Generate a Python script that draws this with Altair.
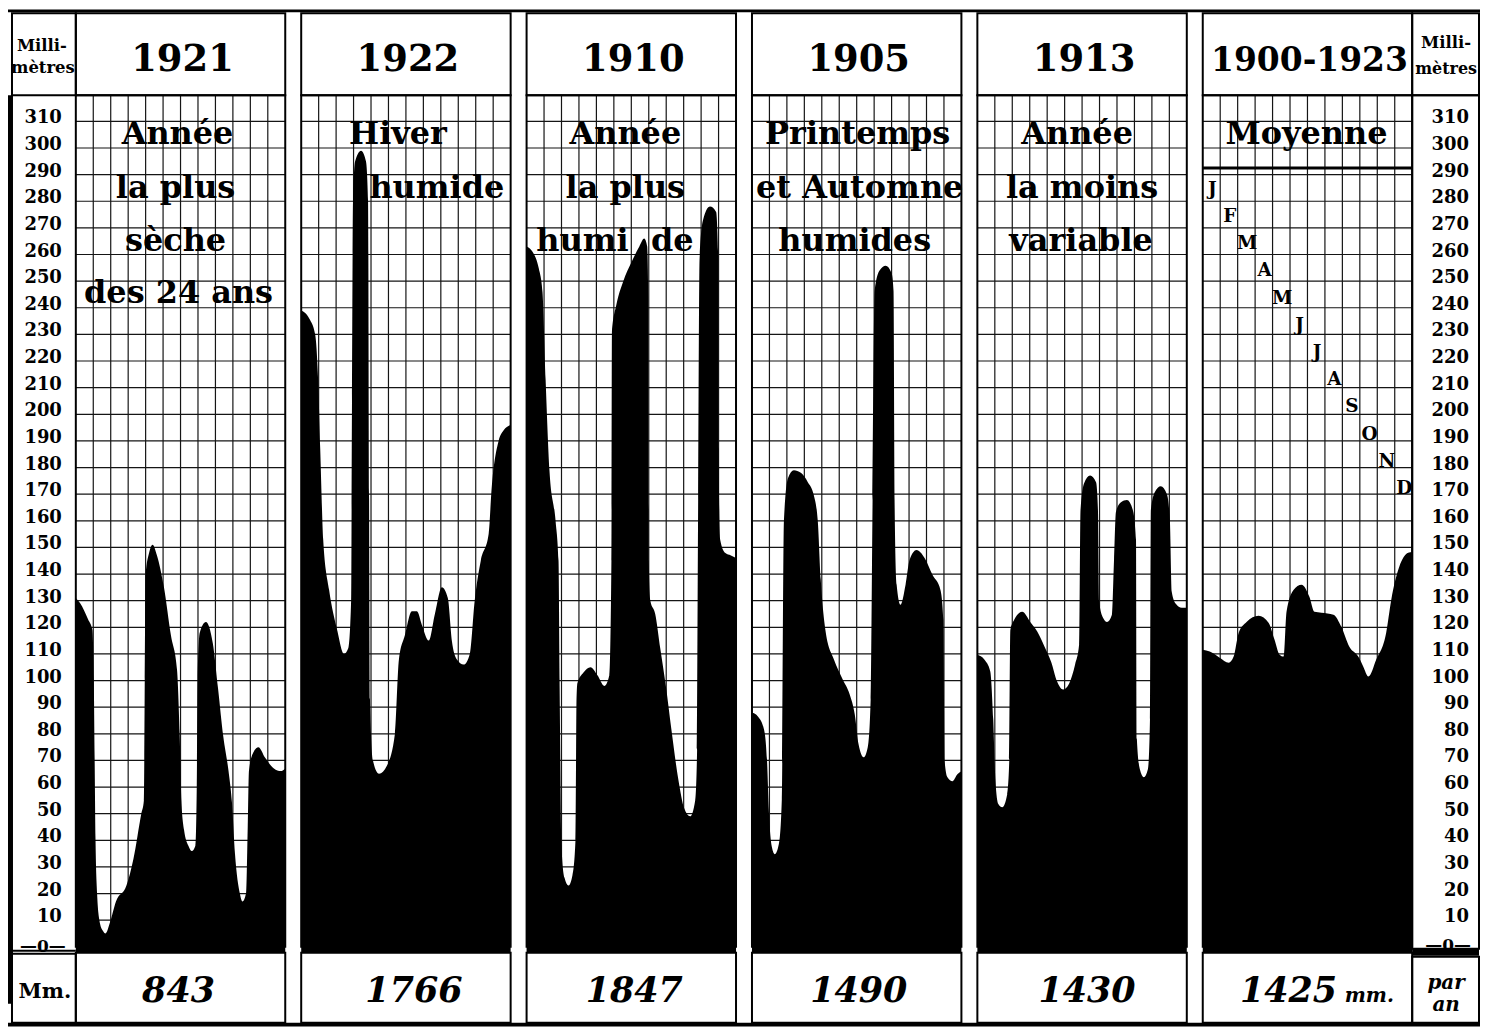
import altair as alt
import pandas as pd

# ---------------- data ----------------
years = ["1921", "1922", "1910", "1905", "1913", "1900-1923"]
totals = ["843", "1766", "1847", "1490", "1430", "1425"]
month_letters = ["J", "F", "M", "A", "M", "J", "J", "A", "S", "O", "N", "D"]
y_ticks = list(range(10, 320, 10))

notes_1921 = ["Année", "la plus", "sèche", "des 24 ans"]
notes_1922 = ["Hiver", "humide"]
notes_1910 = ["Année", "la plus", "humi", "de"]
notes_1905 = ["Printemps", "et Automne", "humides"]
notes_1913 = ["Année", "la moins", "variable"]
notes_moy = ["Moyenne"]

# month position (0 = start of January, 12 = end of December) and rainfall in mm
pos_1921 = [0.00, 0.25, 0.70, 0.95, 1.03, 1.08, 1.13, 1.22, 1.35, 1.55, 1.70, 1.95, 2.30, 2.90, 3.30, 3.75, 3.90,
            3.95, 4.00, 4.20, 4.40, 4.65, 5.05, 5.45, 5.80, 5.95, 6.05, 6.20, 6.45, 6.65, 6.85, 6.93, 6.98, 7.10,
            7.45, 7.85, 8.15, 8.45, 8.75, 8.95, 9.12, 9.40, 9.55, 9.75, 9.85, 9.92, 10.17, 10.46, 10.85, 11.35,
            11.75, 12.00]
mm_1921 = [131, 129, 123, 119, 100, 70, 40, 20, 10, 6, 5, 9, 17, 23, 33, 50, 55, 100, 140, 148, 151, 147, 135, 117,
           104, 80, 55, 44, 38, 36, 38, 60, 100, 118, 122, 114, 97, 79, 66, 54, 35, 20, 17, 20, 45, 66, 73, 75, 71,
           67, 66, 67]

pos_1922 = [0.00, 0.46, 0.80, 0.97, 1.09, 1.26, 1.60, 2.06, 2.46, 2.69, 2.86, 2.91, 2.97, 3.09, 3.43, 3.71, 3.83,
            3.89, 3.94, 4.11, 4.46, 4.91, 5.37, 5.60, 5.94, 6.34, 6.63, 6.91, 7.31, 7.66, 8.06, 8.40, 8.63, 8.91,
            9.31, 9.66, 9.94, 10.29, 10.74, 10.91, 11.31, 11.60, 12.00]
mm_1922 = [239, 236, 230, 213, 187, 153, 134, 119, 110, 112, 130, 205, 280, 295, 299, 295, 280, 168, 93, 70, 65, 68,
           80, 108, 117, 126, 126, 121, 115, 125, 135, 131, 115, 108, 106, 110, 130, 145, 155, 172, 190, 194, 196]

pos_1910 = [0.00, 0.34, 0.69, 0.91, 1.09, 1.31, 1.66, 1.83, 1.89, 2.00, 2.17, 2.40, 2.63, 2.80, 2.86, 2.91, 3.26,
            3.66, 4.06, 4.46, 4.74, 4.86, 4.89, 5.14, 5.54, 6.00, 6.46, 6.74, 6.91, 6.97, 7.00, 7.09, 7.37, 7.66,
            8.00, 8.29, 8.69, 9.03, 9.37, 9.66, 9.77, 9.83, 9.91, 10.11, 10.51, 10.86, 10.97, 11.00, 11.09, 11.37,
            11.71, 12.00]
mm_1910 = [263, 261, 255, 246, 213, 179, 160, 145, 100, 38, 26, 23, 27, 40, 93, 99, 103, 105, 102, 98, 102, 145, 231,
           241, 250, 257, 263, 266, 263, 243, 145, 130, 125, 112, 97, 82, 63, 52, 49, 55, 74, 168, 258, 273, 278,
           276, 261, 187, 153, 148, 147, 146]

pos_1905 = [0.00, 0.34, 0.69, 0.86, 0.97, 1.14, 1.31, 1.54, 1.71, 1.83, 2.06, 2.40, 2.80, 3.20, 3.54, 3.77, 3.94,
            4.23, 4.69, 5.20, 5.60, 5.89, 6.11, 6.40, 6.63, 6.80, 6.91, 7.03, 7.31, 7.66, 8.00, 8.11, 8.17, 8.29,
            8.51, 8.80, 9.03, 9.43, 9.89, 10.34, 10.80, 10.97, 11.03, 11.20, 11.49, 11.77, 12.00]
mm_1905 = [88, 86.5, 81.6, 70.4, 50.6, 37.5, 34.8, 38.6, 55.4, 160, 176, 179, 178, 174.5, 169.7, 160, 138, 118, 108,
           100.4, 94.8, 87.3, 76, 71.2, 74.9, 92.9, 167.8, 246.4, 254, 255.8, 253, 246.4, 167.8, 136, 128.5, 136,
           145.3, 149, 146, 139.7, 134, 122.8, 70.4, 63.7, 62.2, 64.8, 65.9]

pos_1913 = [0.00, 0.40, 0.74, 0.91, 1.03, 1.20, 1.43, 1.71, 1.83, 1.89, 2.11, 2.57, 3.03, 3.43, 3.83, 4.23, 4.57,
            4.91, 5.26, 5.60, 5.83, 5.91, 6.11, 6.46, 6.80, 6.91, 6.97, 7.20, 7.43, 7.71, 7.83, 7.94, 8.23, 8.57,
            8.91, 9.09, 9.14, 9.31, 9.54, 9.77, 9.89, 9.94, 10.17, 10.51, 10.86, 11.03, 11.14, 11.37, 11.71, 12.00]
mm_1913 = [109.7, 107.9, 103.4, 85.4, 63, 53.6, 52.4, 57.3, 70.4, 119, 122.8, 125.8, 122, 118.4, 113, 107, 99.6,
           96.6, 98.9, 106, 113.5, 164, 174, 177, 174.5, 164, 130, 123.6, 122, 124.7, 145.3, 163.3, 167, 167.8, 164,
           152.8, 78, 66.7, 63.7, 66.7, 85.4, 164, 170.8, 173, 170, 160.3, 133.3, 128.8, 127.3, 127.3]

pos_moy = [0.00, 0.40, 0.97, 1.49, 1.77, 2.06, 2.51, 3.20, 3.77, 4.11, 4.40, 4.63, 4.80, 5.20, 5.66, 6.11, 6.40,
           6.80, 7.49, 7.94, 8.40, 8.91, 9.20, 9.49, 9.94, 10.51, 10.80, 11.26, 11.77, 12.00]
mm_moy = [111.6, 110.9, 108.6, 106.7, 109, 118, 122, 124.3, 121.7, 115.4, 109.7, 109, 125.8, 134, 136, 131.5, 125.8,
          125.5, 124.7, 120.2, 112.7, 109, 105.2, 101.5, 107.9, 118, 130.3, 142.7, 148, 148.3]

series = [(pos_1921, mm_1921), (pos_1922, mm_1922), (pos_1910, mm_1910),
          (pos_1905, mm_1905), (pos_1913, mm_1913), (pos_moy, mm_moy)]

# ---------------- layout ----------------
OFF = 8                 # page margin
W, H = 1476, 1020
COLW = 17.5             # px per month
PXMM = 2.67             # px per mm
BASE_IMG = 948          # page y of the 0 mm line
PANEL_LEFT = [76, 302, 528, 754, 980, 1206]
PANEL_W = 210
PLOT_TOP = 94
FONT = "DejaVu Serif"


def X(img_x):
    return (img_x - OFF) / COLW


def Y(img_y):
    return (BASE_IMG - img_y) / PXMM


xs = alt.Scale(domain=[X(OFF), X(OFF + W)], nice=False, zero=False)
ys = alt.Scale(domain=[Y(OFF + H), Y(OFF)], nice=False, zero=False)

# areas
rows = []
for i, (ps, vs) in enumerate(series):
    o = X(PANEL_LEFT[i])
    for p, v in zip(ps, vs):
        rows.append({"panel": years[i], "pos": o + p, "mm": v})
area_df = pd.DataFrame(rows)

# grid
grid = []
for left in PANEL_LEFT:
    o = X(left)
    for k in y_ticks:
        grid.append({"x": o, "x2": o + 12, "y": k, "y2": k})
    for j in range(1, 12):
        grid.append({"x": o + j, "x2": o + j, "y": 0, "y2": Y(PLOT_TOP)})
grid_df = pd.DataFrame(grid)


def box(x1, y1, x2, y2):
    return {"x": X(x1), "x2": X(x2), "y": Y(y1), "y2": Y(y2)}


frames = []
for left in PANEL_LEFT:
    frames.append(box(left, 12, left + PANEL_W, PLOT_TOP))
    frames.append(box(left, PLOT_TOP, left + PANEL_W, BASE_IMG))
    frames.append(box(left, 954, left + PANEL_W, 1024))
frames += [box(12, 12, 76, PLOT_TOP), box(12, 955, 76, 1024),
           box(1416, 12, 1483, PLOT_TOP), box(1416, PLOT_TOP, 1483, 950), box(1416, 958, 1483, 1024)]
frames_df = pd.DataFrame(frames)

blacks = [box(8, 8, 1484, 11), box(8, 1024, 1484, 1028), box(8, 94, 13, 1005),
          box(1416, 950, 1483, 957), box(12, 951, 76, 953)]
for left in PANEL_LEFT:
    blacks.append(box(left, 946, left + PANEL_W, 954))
blacks_df = pd.DataFrame(blacks)

thick_df = pd.DataFrame([box(1206, 167, 1416, 167)])


def enc_seg(ch):
    return ch.encode(x=alt.X("x:Q", scale=xs, axis=None), x2="x2:Q",
                     y=alt.Y("y:Q", scale=ys, axis=None), y2="y2:Q")


def text_layer(df, **props):
    return alt.Chart(df).mark_text(font=FONT, color="black", **props).encode(
        x=alt.X("x:Q", scale=xs, axis=None),
        y=alt.Y("y:Q", scale=ys, axis=None),
        text="label:N",
        size=alt.Size("size:Q", scale=None, legend=None),
    )


# texts
year_rows = []
for i, yr in enumerate(years):
    year_rows.append({"label": yr, "x": X(PANEL_LEFT[i] + 107), "y": Y(70),
                      "size": 33 if "-" in yr else 37})
years_df = pd.DataFrame(year_rows)

note_layout = [
    (notes_1921, [(178, 143), (176, 197), (176, 250), (179, 302)]),
    (notes_1922, [(399, 143), (438, 197)]),
    (notes_1910, [(627, 143), (627, 197), (584, 250), (674, 250)]),
    (notes_1905, [(860, 143), (862, 197), (857, 250)]),
    (notes_1913, [(1080, 143), (1085, 197), (1084, 250)]),
    (notes_moy, [(1310, 143)]),
]
note_rows = []
for labels, places in note_layout:
    for lab, (px, py) in zip(labels, places):
        note_rows.append({"label": lab, "x": X(px), "y": Y(py), "size": 32})
notes_df = pd.DataFrame(note_rows)

total_centers = [179, 415, 636, 861, 1090, 1292]
tot_rows = [{"label": t, "x": X(c), "y": Y(1003), "size": 35} for t, c in zip(totals, total_centers)]
tot_rows.append({"label": "mm.", "x": X(1373), "y": Y(1003), "size": 20})
tot_rows.append({"label": "par", "x": X(1450), "y": Y(990), "size": 20})
tot_rows.append({"label": "an", "x": X(1450), "y": Y(1012), "size": 20})
tot_df = pd.DataFrame(tot_rows)

small_rows = [
    {"label": "Milli-", "x": X(42), "y": Y(50), "size": 16.5},
    {"label": "mètres", "x": X(43), "y": Y(72), "size": 16.5},
    {"label": "Milli-", "x": X(1450), "y": Y(47), "size": 16.5},
    {"label": "mètres", "x": X(1450), "y": Y(73), "size": 16},
    {"label": "Mm.", "x": X(45), "y": Y(999), "size": 21},
    {"label": "—0—", "x": X(43), "y": Y(953), "size": 17},
    {"label": "—0—", "x": X(1452), "y": Y(952), "size": 17},
]
small_df = pd.DataFrame(small_rows)

tick_rows = []
for k in y_ticks:
    tick_rows.append({"label": str(k), "x": X(62), "y": k, "size": 18})
    tick_rows.append({"label": str(k), "x": X(1473), "y": k, "size": 18})
ticks_df = pd.DataFrame(tick_rows)

ml_rows = []
for i, lab in enumerate(month_letters):
    ml_rows.append({"label": lab, "x": X(PANEL_LEFT[5]) + i + 0.55, "y": Y(194) - i * 10.21, "size": 18.5})
ml_df = pd.DataFrame(ml_rows)

# ---------------- layers ----------------
grid_layer = enc_seg(alt.Chart(grid_df).mark_rule(color="#151515", strokeWidth=1.2))
area_layer = alt.Chart(area_df).mark_area(color="black", interpolate="monotone").encode(
    x=alt.X("pos:Q", scale=xs, axis=None),
    y=alt.Y("mm:Q", scale=ys, axis=None),
    y2=alt.datum(0),
    detail="panel:N",
)
black_layer = enc_seg(alt.Chart(blacks_df).mark_rect(color="black"))
frame_layer = enc_seg(alt.Chart(frames_df).mark_rect(fillOpacity=0, stroke="black", strokeWidth=2))
thick_layer = enc_seg(alt.Chart(thick_df).mark_rule(color="black", strokeWidth=3))

years_layer = text_layer(years_df, fontWeight="bold", align="center", baseline="alphabetic")
notes_layer = text_layer(notes_df, fontWeight="bold", align="center", baseline="alphabetic")
tot_layer = text_layer(tot_df, fontWeight="bold", fontStyle="italic", align="center", baseline="alphabetic")
small_layer = text_layer(small_df, fontWeight="bold", align="center", baseline="alphabetic")
ticks_layer = text_layer(ticks_df, fontWeight="bold", align="right", baseline="middle", dy=-3)
ml_layer = text_layer(ml_df, fontWeight="bold", align="center", baseline="alphabetic")

chart = alt.layer(
    grid_layer, area_layer, black_layer, frame_layer, thick_layer,
    years_layer, notes_layer, tot_layer, small_layer, ticks_layer, ml_layer,
).properties(
    width=W, height=H,
    autosize=alt.AutoSizeParams(type="none"),
    padding=0,
    background="white",
).configure_view(strokeWidth=0)

chart.save("out.html", embed_options={"renderer": "svg", "actions": False})
